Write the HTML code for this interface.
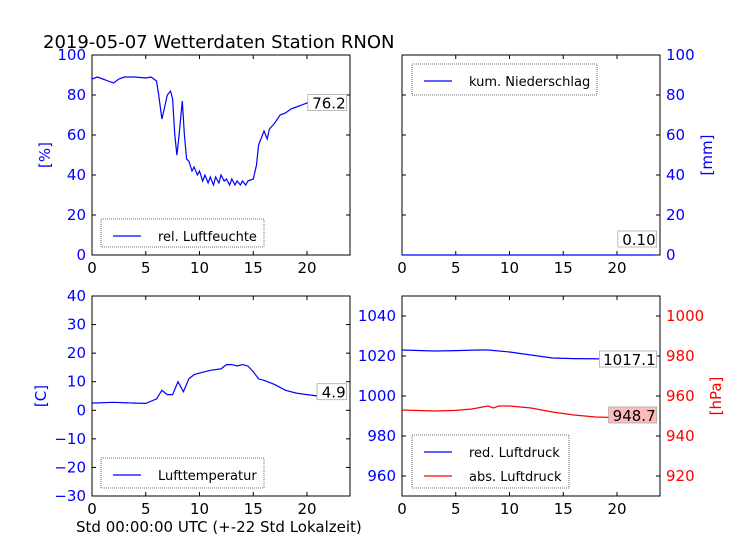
<!DOCTYPE html>
<html><head><meta charset="utf-8"><style>
body{margin:0;background:#fff;}
svg{display:block;font-family:"DejaVu Sans","Liberation Sans",sans-serif;}
</style></head><body>
<svg id="c" width="736" height="552"></svg>
<script>
const humX=[0,0.5,1,1.5,2,2.5,3,4,5,5.5,6,6.2,6.5,6.8,7,7.3,7.5,7.7,7.9,8.1,8.4,8.6,8.8,9,9.3,9.5,9.8,10,10.3,10.5,10.8,11,11.3,11.5,11.8,12,12.3,12.5,12.8,13,13.3,13.5,13.8,14,14.3,14.5,15,15.3,15.5,16,16.3,16.5,17,17.5,18,18.5,19,19.5,20,20.5,21,21.5,22,22.5,23,23.5];
const humY=[88,89,88,87,86,88,89,89,88.5,89,87,80,68,75,80,82,78,60,50,60,77,60,48,47,42,44,40,42,37,40,36,39,35,39,36,40,37,38,35,38,35,37,35,37,35,37,38,45,55,62,58,63,66,70,71,73,74,75,76,77,77,76,78,76,79,76.2];
const tempX=[0,2,4,5,6,6.5,7,7.5,8,8.5,9,9.5,10,11,12,12.5,13,13.5,14,14.5,15,15.5,16,17,18,19,20,21,21.5,22,23,23.5];
const tempY=[2.5,2.8,2.5,2.4,4,7,5.5,5.5,10,6.5,11,12.5,13,14,14.5,16,16,15.5,16,15.5,13.5,11,10.5,9,7,6,5.5,5,4.5,4.7,5,4.9];
const redX=[0,3,5,7,8,10,12,14,16,20,23.5];
const redY=[1023,1022.5,1022.7,1023,1023,1022,1020.5,1019,1018.7,1018.5,1017.1];
const absX=[0,3,5,6.5,7,8,8.5,9,10,12,14,16,18,20,23.5];
const absY=[953,952.5,952.8,953.5,954,955,954,955,955,954,952,950.5,949.5,949.2,948.7];
const rainX=[0,23.5];
const rainY=[0,0];
const xTicks=[0,5,10,15,20];

const svg=document.getElementById('c');const NS='http://www.w3.org/2000/svg';
function el(t,a,p){const e=document.createElementNS(NS,t);for(const k in a)e.setAttribute(k,a[k]);(p||svg).appendChild(e);return e;}
function txt(s,a,p){const e=el('text',a,p);e.textContent=s;return e;}
function fmt(t){return t<0?'\u2212'+(-t):String(t);}
function panel(name,x0,y0,w,h,ymin,ymax){
  const g=el('g',{});
  return {g,sx:v=>x0+v/24*w,sy:(v,a,b)=>y0+h-(v-(a??ymin))/((b??ymax)-(a??ymin))*h,x0,y0,w,h,ymin,ymax};
}
function frame(P){
  el('rect',{x:P.x0,y:P.y0,width:P.w,height:P.h,fill:'none',stroke:'#000','stroke-width':1},P.g);
  xTicks.forEach(t=>{const x=P.sx(t);
    el('line',{x1:x,x2:x,y1:P.y0+P.h,y2:P.y0+P.h-4,stroke:'#000'},P.g);
    el('line',{x1:x,x2:x,y1:P.y0,y2:P.y0+4,stroke:'#000'},P.g);
    const l=txt(t,{x:x,y:P.y0+P.h+18,'text-anchor':'middle','font-size':15,fill:'#000'},P.g);
    });
}
function yTicks(P,ticks,side,color,a,b,labels){
  ticks.forEach(t=>{const y=P.sy(t,a,b);
    const xl=side==='l'?P.x0:P.x0+P.w;const d=side==='l'?4:-4;
    el('line',{x1:xl,x2:xl+d,y1:y,y2:y,stroke:'#000'},P.g);
    if(labels!==false){const l=txt(fmt(t),side==='l'?{x:P.x0-6,y:y+5,'text-anchor':'end','font-size':15,fill:color}:{x:P.x0+P.w+6,y:y+5,'font-size':15,fill:color},P.g);
    }
  });
}
function line(P,xs,ys,color,a,b,name){
  const d=xs.map((v,i)=>(i?'L':'M')+P.sx(v).toFixed(1)+','+P.sy(ys[i],a,b).toFixed(1)).join('');
  const p=el('path',{d,fill:'none',stroke:color,'stroke-width':1.2},P.g);
  
}
function valBox(P,xs,ys,a,b,s,fill,name){
  const x=P.sx(xs[xs.length-1]),y=P.sy(ys[ys.length-1],a,b);
  const w=s.length*9.2+2;
  el('rect',{x:x-w+2,y:y-8,width:w,height:16,fill:fill,stroke:'#aaa','stroke-width':0.8},P.g);
  const t=txt(s,{x:x+1,y:y+6,'text-anchor':'end','font-size':15,fill:'#000'},P.g);
  
}
function legend(P,x,y,w,h,items,name){
  const g=el('g',{},P.g);
  el('rect',{x,y,width:w,height:h,fill:'#fff',stroke:'#444','stroke-width':0.8,'stroke-dasharray':'1,1'},g);
  items.forEach((it,i)=>{const yy=y+17+i*24;
    el('line',{x1:x+12,x2:x+40,y1:yy,y2:yy,stroke:it[1],'stroke-width':1.2},g);
    txt(it[0],{x:x+57,y:yy+5,'font-size':13,fill:'#000'},g);});
}
const title=txt('2019-05-07 Wetterdaten Station RNON',{x:43,y:48,'font-size':18,fill:'#000'});


const A=panel('humidity-panel',92,55,258,200,0,100);
frame(A);yTicks(A,[0,20,40,60,80,100],'l','#00f');yTicks(A,[0,20,40,60,80,100],'r','#00f',0,100,false);
line(A,humX,humY,'#00f',undefined,undefined,'humidity-line');
valBox(A,humX,humY,undefined,undefined,'76.2','#fff','humidity-value');
legend(A,101,219,163,28,[['rel. Luftfeuchte','#00f']],'humidity-legend');
txt('[%]',{x:50,y:155,'font-size':15,fill:'#00f',transform:'rotate(-90 50 155)','text-anchor':'middle'},A.g);

const B=panel('precip-panel',402,55,258,200,0,100);
frame(B);yTicks(B,[0,20,40,60,80,100],'r','#00f');yTicks(B,[0,20,40,60,80,100],'l','#00f',0,100,false);
line(B,rainX,rainY,'#00f',undefined,undefined,'precip-line');
valBox(B,rainX,[8],undefined,undefined,'0.10','#fff','precip-value');
legend(B,412,64,185,31,[['kum. Niederschlag','#00f']],'precip-legend');
txt('[mm]',{x:712,y:155,'font-size':15,fill:'#00f',transform:'rotate(-90 712 155)','text-anchor':'middle'},B.g);

const C=panel('temperature-panel',92,296,258,200,-30,40);
frame(C);yTicks(C,[-30,-20,-10,0,10,20,30,40],'l','#00f');yTicks(C,[-30,-20,-10,0,10,20,30,40],'r','#00f',-30,40,false);
line(C,tempX,tempY,'#00f',undefined,undefined,'temperature-line');
valBox(C,tempX,[6.5],undefined,undefined,'4.9','#fff','temperature-value');
legend(C,101,458,163,30,[['Lufttemperatur','#00f']],'temperature-legend');
txt('[C]',{x:46,y:396,'font-size':15,fill:'#00f',transform:'rotate(-90 46 396)','text-anchor':'middle'},C.g);

const D=panel('pressure-panel',402,296,258,200,950,1050);
frame(D);yTicks(D,[960,980,1000,1020,1040],'l','#00f');yTicks(D,[920,940,960,980,1000],'r','#f00',910,1010);
line(D,redX,redY,'#00f',undefined,undefined,'red-pressure-line');
line(D,absX,absY,'#f00',910,1010,'abs-pressure-line');
valBox(D,redX,[1018.5],undefined,undefined,'1017.1','#fff','red-pressure-value');
valBox(D,absX,[950.5],910,1010,'948.7','#fbb','abs-pressure-value');
legend(D,412,435,157,53,[['red. Luftdruck','#00f'],['abs. Luftdruck','#f00']],'pressure-legend');
txt('[hPa]',{x:721,y:396,'font-size':15,fill:'#f00',transform:'rotate(-90 721 396)','text-anchor':'middle'},D.g);

const xl=txt('Std 00:00:00 UTC (+-22 Std Lokalzeit)',{x:76,y:532,'font-size':15,fill:'#000'});

</script>
</body></html>
